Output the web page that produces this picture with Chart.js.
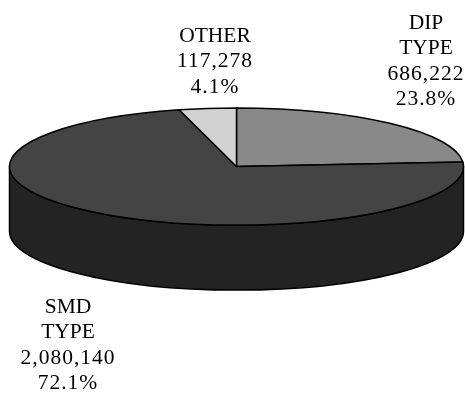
<!DOCTYPE html>
<html>
<head>
<meta charset="utf-8">
<script src="https://cdn.jsdelivr.net/npm/chart.js@4/dist/chart.umd.min.js"></script>
<style>
  body { margin: 0; background: #fff; }
  canvas { display: block; }
</style>
</head>
<body>
<canvas id="myChart" width="465" height="403"></canvas>
<script>
// data
var categories = [["DIP", "TYPE"], ["SMD", "TYPE"], ["OTHER"]]
var counts = [686222, 2080140, 117278]
var topColors = ["#898989", "#444444", "#d2d2d2"]
var sideColors = ["#5a5a5a", "#232323", "#9a9a9a"]

var total = counts.reduce(function(a, b) { return a + b }, 0)

function fmt(n) {
  return n.toString().replace(/\B(?=(\d{3})+(?!\d))/g, ",")
}

// squash the chart.js pie into a tilted disc with a side wall
var pie3d = {
  id: "pie3d",
  beforeDatasetsDraw: function(chart, args, opts) {
    var ctx = chart.ctx
    var arcs = chart.getDatasetMeta(0).data
    var cx = arcs[0].x
    var cy = arcs[0].y
    var R = arcs[0].outerRadius
    var ry = R * opts.tilt
    var depth = opts.depth

    ctx.save()
    ctx.lineWidth = 1.5
    ctx.strokeStyle = "#000"
    ctx.lineJoin = "round"

    // side wall, only the front half (0..PI) shows
    arcs.forEach(function(arc, i) {
      [-2 * Math.PI, 0, 2 * Math.PI].forEach(function(shift) {
        var a = Math.max(arc.startAngle, shift)
        var b = Math.min(arc.endAngle, shift + Math.PI)
        if (b <= a) return
        ctx.beginPath()
        ctx.ellipse(cx, cy, R, ry, 0, a, b)
        ctx.ellipse(cx, cy + depth, R, ry, 0, b, a, true)
        ctx.closePath()
        ctx.fillStyle = sideColors[i]
        ctx.fill()
        ctx.stroke()
      })
    })

    // top face
    arcs.forEach(function(arc, i) {
      ctx.beginPath()
      ctx.moveTo(cx, cy)
      ctx.ellipse(cx, cy, R, ry, 0, arc.startAngle, arc.endAngle)
      ctx.closePath()
      ctx.fillStyle = topColors[i]
      ctx.fill()
      ctx.stroke()
    })

    // labels
    ctx.fillStyle = "#000"
    ctx.font = opts.font
    ctx.textAlign = "center"
    ctx.textBaseline = "middle"
    arcs.forEach(function(arc, i) {
      var words = categories[i]
      var nums = [fmt(counts[i]), (counts[i] / total * 100).toFixed(1) + "%"]
      var p = opts.labelAt[i]
      words.concat(nums).forEach(function(t, j) {
        // the numbers in the original are set a bit wider
        ctx.letterSpacing = j < words.length ? "0px" : "1px"
        ctx.fillText(t, p[0], p[1] + j * opts.lineHeight)
      })
    })
    ctx.restore()
    return false
  }
}

var ctx = document.getElementById("myChart").getContext("2d")
var chart = new Chart(ctx, {
  type: "pie",
  data: {
    labels: categories.map(function(c) { return c.join(" ") }),
    datasets: [{
      data: counts,
      backgroundColor: topColors,
      borderColor: "#000",
      borderWidth: 1.5
    }]
  },
  options: {
    responsive: false,
    animation: false,
    radius: 227,
    layout: { padding: { left: 8, right: 0, top: 0, bottom: 70 } },
    plugins: {
      legend: { display: false },
      tooltip: { enabled: false },
      pie3d: {
        tilt: 0.258,
        depth: 65,
        font: "21.5px 'Liberation Serif'",
        lineHeight: 25.6,
        labelAt: [[426, 23], [68, 307], [215, 36]]
      }
    }
  },
  plugins: [pie3d]
})
</script>
</body>
</html>
